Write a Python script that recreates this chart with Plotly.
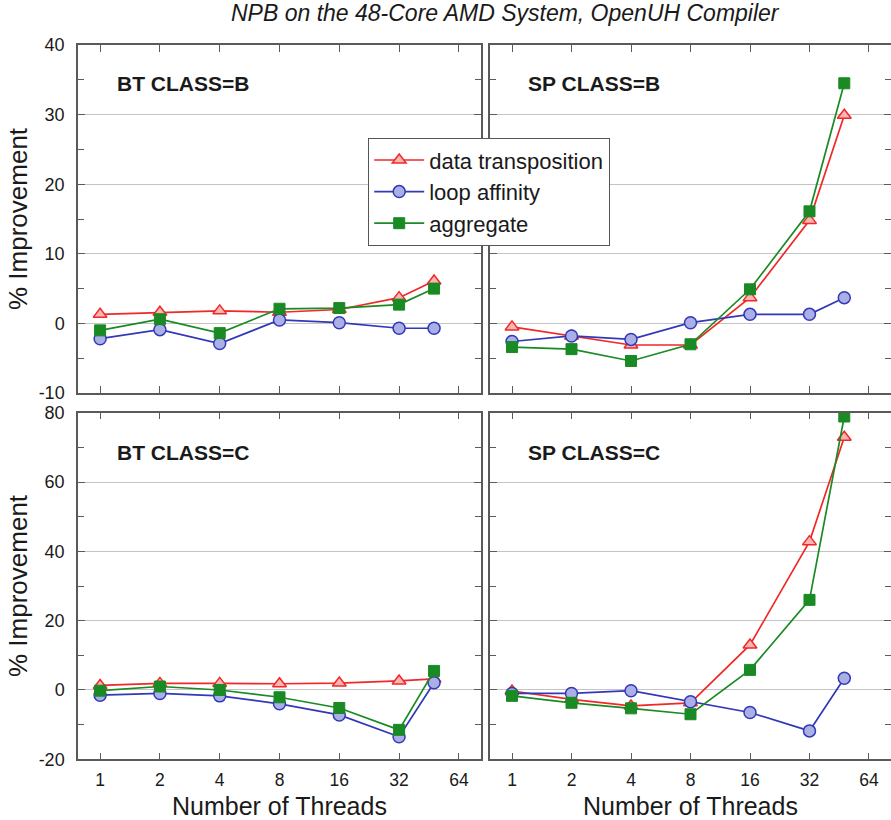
import math
import plotly.graph_objects as go

# Thread counts (x) shared by every panel
threads = [1, 2, 4, 8, 16, 32, 48]
tick_vals = [1, 2, 4, 8, 16, 32, 64]
tick_text = ["1", "2", "4", "8", "16", "32", "64"]

# y tick values per row (hyphen-minus labels)
top_y_ticks = [-10, 0, 10, 20, 30, 40]
bottom_y_ticks = [-20, 0, 20, 40, 60, 80]

# % improvement per benchmark / class
bt_b_transpose = [1.3, 1.6, 1.8, 1.6, 2.0, 3.7, 6.1]
bt_b_affinity = [-2.2, -0.9, -2.9, 0.5, 0.1, -0.7, -0.7]
bt_b_aggregate = [-1.0, 0.6, -1.4, 2.1, 2.2, 2.7, 5.0]

sp_b_transpose = [-0.5, -1.8, -3.1, -3.1, 3.7, 14.8, 29.9]
sp_b_affinity = [-2.6, -1.8, -2.3, 0.1, 1.3, 1.3, 3.7]
sp_b_aggregate = [-3.4, -3.7, -5.4, -3.0, 4.9, 16.1, 34.5]

bt_c_transpose = [1.3, 1.9, 1.9, 1.8, 2.0, 2.6, 3.2]
bt_c_affinity = [-1.5, -1.0, -1.7, -4.0, -7.2, -13.5, 2.1]
bt_c_aggregate = [-0.2, 1.0, 0.0, -2.1, -5.2, -11.5, 5.5]

sp_c_transpose = [-0.3, -2.7, -4.6, -3.7, 13.0, 42.8, 72.9]
sp_c_affinity = [-1.0, -1.0, -0.2, -3.4, -6.5, -11.8, 3.4]
sp_c_aggregate = [-1.7, -3.7, -5.3, -7.0, 5.8, 26.0, 78.9]

series_names = ["data transposition", "loop affinity", "aggregate"]
panel_titles = ["BT CLASS=B", "SP CLASS=B", "BT CLASS=C", "SP CLASS=C"]

W, H = 891, 820
FONT = "Liberation Sans, Arial, sans-serif"
AX = "#5a5a5a"
TXT = "#1a1a1a"

RED, BLUE, GREEN = "#f02828", "#3238b8", "#1a8a24"
styles = [
    dict(color=RED, marker=dict(symbol="triangle-up", size=12, color="#f9b4b4",
                                line=dict(color=RED, width=1.5))),
    dict(color=BLUE, marker=dict(symbol="circle", size=12, color="#aab0e6",
                                 line=dict(color=BLUE, width=1.5))),
    dict(color=GREEN, marker=dict(symbol="square", size=11, color=GREEN,
                                  line=dict(color=GREEN, width=1))),
]

panels = [
    (bt_b_transpose, bt_b_affinity, bt_b_aggregate),
    (sp_b_transpose, sp_b_affinity, sp_b_aggregate),
    (bt_c_transpose, bt_c_affinity, bt_c_aggregate),
    (sp_c_transpose, sp_c_affinity, sp_c_aggregate),
]

fig = go.Figure()
for p, data in enumerate(panels):
    ax = "" if p == 0 else str(p + 1)
    for k, ys in enumerate(data):
        st = styles[k]
        fig.add_trace(go.Scatter(
            x=threads, y=ys, mode="lines+markers", name=series_names[k],
            line=dict(color=st["color"], width=1.7), marker=st["marker"],
            xaxis="x" + ax, yaxis="y" + ax, showlegend=(p == 0),
        ))

# panel frames in pixels: (left, right, top, bottom)
frames = [(78, 481, 45, 393), (490, 891, 45, 393),
          (78, 481, 412.7, 759.3), (490, 891, 412.7, 759.3)]
xr = [math.log10(2 ** -0.37), math.log10(2 ** 6.37)]

layout = dict(
    width=W, height=H,
    margin=dict(l=0, r=0, t=0, b=0, autoexpand=False),
    paper_bgcolor="white", plot_bgcolor="white",
    font=dict(family=FONT, color=TXT),
    showlegend=True,
    legend=dict(x=368 / W, y=1 - 138 / H, xanchor="left", yanchor="top",
                bgcolor="white", bordercolor="#555555", borderwidth=1.2,
                font=dict(size=22, family=FONT, color=TXT),
                itemwidth=50, tracegroupgap=0),
)
for p, (l, r, t, b) in enumerate(frames):
    ax = "" if p == 0 else str(p + 1)
    bottom_row = p >= 2
    left_col = p % 2 == 0
    yt = top_y_ticks if p < 2 else bottom_y_ticks
    layout["xaxis" + ax] = dict(
        type="log", range=xr, domain=[l / W, r / W], anchor="y" + ax,
        tickvals=tick_vals, ticktext=tick_text, showticklabels=bottom_row,
        ticks="inside", ticklen=7, tickwidth=1.3, tickcolor=AX,
        showline=True, linecolor=AX, linewidth=1.5, mirror="ticks",
        showgrid=False, zeroline=False, ticklabelstandoff=4,
        tickfont=dict(size=17.5, family=FONT, color=TXT),
    )
    layout["yaxis" + ax] = dict(
        range=[yt[0], yt[-1]], tickvals=yt, ticktext=[str(v) for v in yt],
        domain=[1 - b / H, 1 - t / H], anchor="x" + ax,
        showticklabels=left_col,
        ticks="inside", ticklen=7, tickwidth=1.3, tickcolor=AX,
        minor=dict(dtick=5 if p < 2 else 10, ticks="inside", ticklen=6,
                   tickwidth=1.3, tickcolor=AX, showgrid=False),
        showline=True, linecolor=AX, linewidth=1.5, mirror="ticks",
        showgrid=True, gridcolor="#c4c4c4", gridwidth=1.2, zeroline=False,
        ticklabelstandoff=8,
        tickfont=dict(size=18, family=FONT, color=TXT),
    )

annotations = [
    dict(text="<i>NPB on the 48-Core AMD System, OpenUH Compiler</i>",
         x=505 / W, y=1 - 13 / H, xanchor="center", yanchor="middle",
         font=dict(size=23, family=FONT, color=TXT), showarrow=False,
         xref="paper", yref="paper"),
]
label_pos = [(115, 84), (526, 84), (115, 452), (526, 452)]
for (px, py), txt in zip(label_pos, panel_titles):
    annotations.append(dict(
        text="<b>" + txt + "</b>", x=px / W, y=1 - py / H,
        xanchor="left", yanchor="middle", showarrow=False,
        xref="paper", yref="paper",
        font=dict(size=21, family=FONT, color=TXT)))
for cy in (219, 586):
    annotations.append(dict(
        text="% Improvement", x=18 / W, y=1 - cy / H, textangle=-90,
        xanchor="center", yanchor="middle", showarrow=False,
        xref="paper", yref="paper",
        font=dict(size=26, family=FONT, color=TXT)))
for cx in (279.5, 690.5):
    annotations.append(dict(
        text="Number of Threads", x=cx / W, y=1 - 806 / H,
        xanchor="center", yanchor="middle", showarrow=False,
        xref="paper", yref="paper",
        font=dict(size=25, family=FONT, color=TXT)))
layout["annotations"] = annotations

fig.update_layout(**layout)
fig.write_html("out.html")
